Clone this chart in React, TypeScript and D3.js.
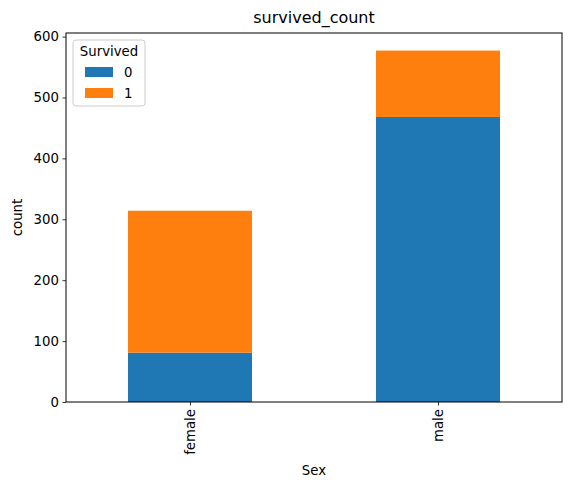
import * as d3 from 'd3';
import { useEffect, useRef } from 'react';

// Counts per sex, split by survival
const categories = ['female', 'male'];
const notSurvived = [81, 468];
const survived = [233, 109];
const seriesKeys = ['0', '1'];
const seriesColors = ['#1f77b4', '#ff7f0e'];
const yTicks = [0, 100, 200, 300, 400, 500, 600];

const App = () => {
  const ref = useRef<SVGSVGElement>(null);

  useEffect(() => {
    const svg = d3.select(ref.current);
    svg.selectAll('*').remove();

    const width = 571, height = 489;
    const margin = { top: 33, right: 9, bottom: 87, left: 66 };
    const innerW = width - margin.left - margin.right;
    const innerH = height - margin.top - margin.bottom;
    const font = 'DejaVu Sans, sans-serif';

    svg.attr('width', width).attr('height', height);

    const rows = categories.map((c, i) => ({ cat: c, '0': notSurvived[i], '1': survived[i] }));
    const stacked = d3.stack<any>().keys(seriesKeys)(rows);
    const maxTotal = d3.max(rows, r => r['0'] + r['1']) as number;

    // matplotlib-like: linear x with 0.5 padding, bar width 0.5
    const x = d3.scaleLinear().domain([-0.5, categories.length - 0.5]).range([0, innerW]);
    const y = d3.scaleLinear().domain([0, maxTotal * 1.05]).range([innerH, 0]);
    const barW = x(0.5) - x(0);

    const g = svg.append('g').attr('transform', `translate(${margin.left},${margin.top})`);

    stacked.forEach((layer, li) => {
      g.selectAll(`rect.s${li}`)
        .data(layer)
        .enter()
        .append('rect')
        .attr('x', (_d, i) => x(i) - barW / 2)
        .attr('width', barW)
        .attr('y', d => y(d[1]))
        .attr('height', d => y(d[0]) - y(d[1]))
        .attr('fill', seriesColors[li]);
    });

    // y axis
    const yAxis = g.append('g').call(d3.axisLeft(y).tickValues(yTicks).tickSize(3.5).tickPadding(3.5));
    yAxis.select('.domain').remove();
    yAxis.selectAll('text').attr('font-family', font).attr('font-size', 13.3).attr('fill', '#000');
    yAxis.selectAll('line').attr('stroke', '#000').attr('stroke-width', 0.8);

    // x axis
    const xAxis = g.append('g')
      .attr('transform', `translate(0,${innerH})`)
      .call(d3.axisBottom(x).tickValues(categories.map((_c, i) => i)).tickFormat((_d, i) => categories[i]).tickSize(3.5));
    xAxis.select('.domain').remove();
    xAxis.selectAll('line').attr('stroke', '#000').attr('stroke-width', 0.8);
    xAxis.selectAll('text')
      .attr('font-family', font)
      .attr('font-size', 13.3)
      .attr('fill', '#000')
      .attr('transform', 'rotate(-90)')
      .attr('text-anchor', 'end')
      .attr('x', -7)
      .attr('y', 0)
      .attr('dy', '0.35em');

    // frame
    g.append('rect')
      .attr('width', innerW)
      .attr('height', innerH)
      .attr('fill', 'none')
      .attr('stroke', '#000')
      .attr('stroke-width', 1);

    // labels
    svg.append('text')
      .attr('x', margin.left + innerW / 2)
      .attr('y', 23)
      .attr('text-anchor', 'middle')
      .attr('font-family', font)
      .attr('font-size', 16)
      .text('survived_count');

    svg.append('text')
      .attr('x', margin.left + innerW / 2)
      .attr('y', 475)
      .attr('text-anchor', 'middle')
      .attr('font-family', font)
      .attr('font-size', 13.3)
      .text('Sex');

    svg.append('text')
      .attr('transform', `translate(22,${margin.top + innerH / 2}) rotate(-90)`)
      .attr('text-anchor', 'middle')
      .attr('font-family', font)
      .attr('font-size', 13.3)
      .text('count');

    // legend
    const lg = svg.append('g').attr('transform', 'translate(73,40)');
    lg.append('rect')
      .attr('width', 72)
      .attr('height', 66)
      .attr('rx', 3)
      .attr('fill', '#fff')
      .attr('fill-opacity', 0.8)
      .attr('stroke', '#ccc');
    lg.append('text')
      .attr('x', 36)
      .attr('y', 16)
      .attr('text-anchor', 'middle')
      .attr('font-family', font)
      .attr('font-size', 13.3)
      .text('Survived');
    seriesKeys.forEach((k, i) => {
      lg.append('rect')
        .attr('x', 12)
        .attr('y', 27 + i * 21)
        .attr('width', 28)
        .attr('height', 10)
        .attr('fill', seriesColors[i]);
      lg.append('text')
        .attr('x', 51)
        .attr('y', 37 + i * 21)
        .attr('font-family', font)
        .attr('font-size', 13.3)
        .text(k);
    });
  }, []);

  return <svg ref={ref} style={{ display: 'block', margin: '-8px' }}></svg>;
};

export default App;
